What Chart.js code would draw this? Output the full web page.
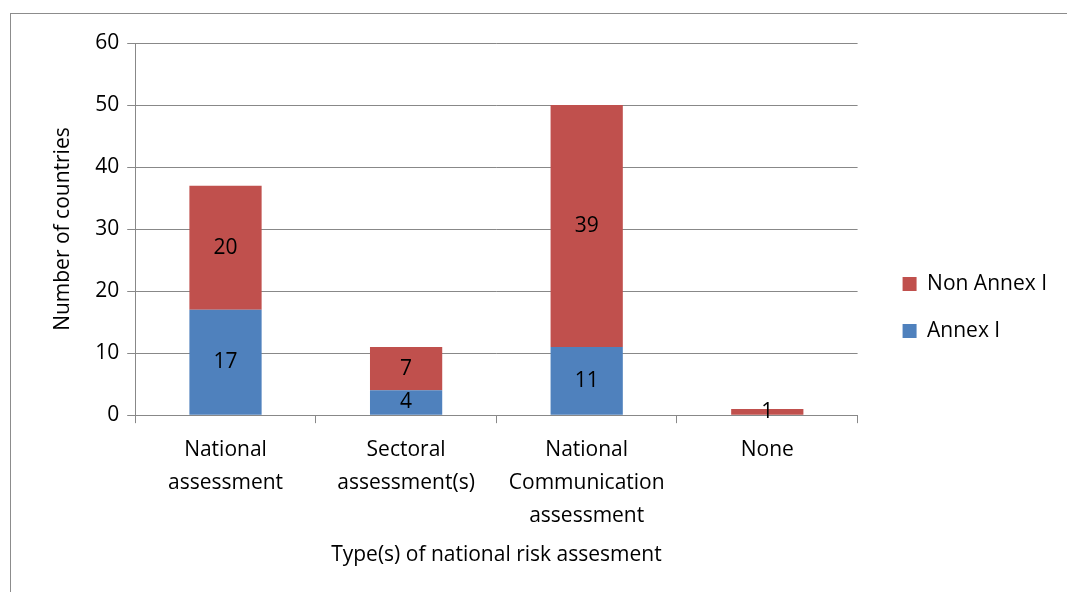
<!DOCTYPE html>
<html>
<head>
<meta charset="utf-8">
<script src="https://cdn.jsdelivr.net/npm/chart.js@4"></script>
<style>
  html, body { margin: 0; padding: 0; background: #fff; }
  #wrap { position: relative; width: 1067px; height: 592px; overflow: hidden; }
  #frame { position: absolute; left: 10px; top: 13px; width: 1100px; height: 620px; border: 1px solid #8c8c8c; }
  #myChart { position: absolute; left: 0; top: 0; }
</style>
</head>
<body>
<div id="wrap">
  <div id="frame"></div>
  <canvas id="myChart" width="1067" height="592"></canvas>
</div>
<script>
var categories = [['National', 'assessment'], ['Sectoral', 'assessment(s)'], ['National', 'Communication', 'assessment'], 'None'];
var annexI = [17, 4, 11, 0];
var nonAnnexI = [20, 7, 39, 1];
var yTicks = [0, 10, 20, 30, 40, 50, 60];

var fontFamily = '"Open Sans", "Liberation Sans", sans-serif';
var fontSize = 21;
var gridColor = '#888888';

// draw the value in the middle of each stacked segment
var segmentLabels = {
    id: 'segmentLabels',
    afterLayout: function(chart) {
        // push the legend a bit to the right, leaving a wider gap after the plot
        if (chart.legend) {
            chart.legend.left += 19;
            chart.legend.right += 19;
        }
    },
    afterDatasetsDraw: function(chart) {
        var ctx = chart.ctx;
        ctx.save();
        ctx.font = fontSize + 'px ' + fontFamily;
        ctx.fillStyle = '#000';
        ctx.textAlign = 'center';
        ctx.textBaseline = 'middle';
        chart.data.datasets.forEach(function(ds, i) {
            var meta = chart.getDatasetMeta(i);
            meta.data.forEach(function(bar, j) {
                var v = ds.data[j];
                if (!v) return;
                var y = (bar.y + bar.base) / 2;
                ctx.fillText(String(v), bar.x, y);
            });
        });
        ctx.restore();
    }
};

var ctx = document.getElementById('myChart').getContext('2d');
var myChart = new Chart(ctx, {
    type: 'bar',
    data: {
        labels: categories,
        datasets: [{
            label: 'Annex I',
            data: annexI,
            backgroundColor: '#4F81BD',
            barPercentage: 0.4,
            categoryPercentage: 1
        }, {
            label: 'Non Annex I',
            data: nonAnnexI,
            backgroundColor: '#C0504D',
            barPercentage: 0.4,
            categoryPercentage: 1
        }]
    },
    options: {
        responsive: false,
        animation: false,
        layout: {
            padding: { left: 46, top: 43, right: 29, bottom: 20 }
        },
        plugins: {
            legend: {
                position: 'right',
                reverse: true,
                labels: {
                    color: '#000',
                    boxWidth: 14,
                    boxHeight: 14,
                    padding: 26,
                    font: { family: fontFamily, size: fontSize }
                }
            },
            tooltip: { enabled: false }
        },
        scales: {
            x: {
                stacked: true,
                grid: {
                    offset: true,
                    drawOnChartArea: false,
                    color: gridColor,
                    tickLength: 8
                },
                border: { color: gridColor },
                ticks: {
                    color: '#000',
                    padding: 11,
                    maxRotation: 0,
                    font: { family: fontFamily, size: fontSize, lineHeight: 1.55 }
                },
                title: {
                    display: true,
                    text: 'Type(s) of national risk assesment',
                    color: '#000',
                    padding: { top: 0 },
                    font: { family: fontFamily, size: fontSize }
                }
            },
            y: {
                stacked: true,
                min: 0,
                max: 60,
                afterBuildTicks: function(axis) {
                    axis.ticks = yTicks.map(function(v) { return { value: v }; });
                },
                grid: {
                    color: gridColor,
                    tickLength: 8
                },
                border: { color: gridColor },
                ticks: {
                    color: '#000',
                    padding: 8,
                    font: { family: fontFamily, size: fontSize }
                },
                title: {
                    display: true,
                    text: 'Number of countries',
                    color: '#000',
                    padding: { bottom: 12 },
                    font: { family: fontFamily, size: fontSize }
                }
            }
        }
    },
    plugins: [segmentLabels]
});
</script>
</body>
</html>
